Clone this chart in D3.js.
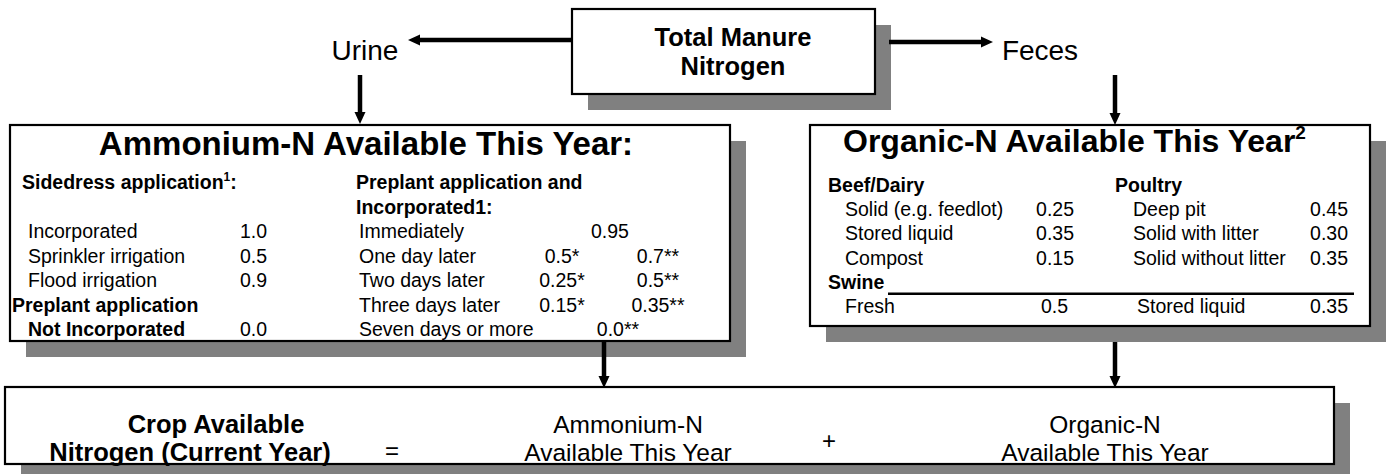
<!DOCTYPE html>
<html>
<head>
<meta charset="UTF-8">
<script src="https://cdnjs.cloudflare.com/ajax/libs/d3/7.8.5/d3.min.js"></script>
<style>
  body { margin: 0; background: #fff; }
  text { font-family: "Liberation Sans", Arial, sans-serif; fill: #000; }
</style>
</head>
<body>
<svg id="svg" width="1386" height="474"></svg>
<script>
// ---- data ----
const topLabel = ["Total Manure", "Nitrogen"]
const branchLabels = ["Urine", "Feces"]

const ammoniumTitle = "Ammonium-N Available This Year:"
const sidedressItems = ["Incorporated", "Sprinkler irrigation", "Flood irrigation"]
const sidedressValues = ["1.0", "0.5", "0.9"]
const notIncLabels = ["Preplant application", "Not Incorporated"]
const notIncValue = "0.0"
const incHead = ["Preplant application and", "Incorporated1:"]
const incItems = ["Immediately", "One day later", "Two days later", "Three days later", "Seven days or more"]
const incValuesA = ["", "0.5*", "0.25*", "0.15*", ""]
const incValuesB = ["", "0.7**", "0.5**", "0.35**", ""]
const incValuesMid = ["0.95", "", "", "", "0.0**"]

const organicTitle = "Organic-N Available This Year"
const beefItems = ["Solid (e.g. feedlot)", "Stored liquid", "Compost"]
const beefValues = ["0.25", "0.35", "0.15"]
const poultryItems = ["Deep pit", "Solid with litter", "Solid without litter"]
const poultryValues = ["0.45", "0.30", "0.35"]
const swineItems = ["Fresh", "Stored liquid"]
const swineValues = ["0.5", "0.35"]

const resultLabel = ["Crop Available", "Nitrogen (Current Year)"]
const sumTerms = [["Ammonium-N", "Available This Year"], ["Organic-N", "Available This Year"]]

// ---- layout ----
const svg = d3.select("#svg")
const SH = 16 // shadow offset
const boxes = [
  { x: 572, y: 9, w: 303, h: 85 },
  { x: 10, y: 125, w: 720, h: 216 },
  { x: 810, y: 125, w: 560, h: 201 },
  { x: 5, y: 387, w: 1329, h: 77 }
]

svg.selectAll("rect.shadow").data(boxes).enter().append("rect")
  .attr("class", "shadow")
  .attr("x", d => d.x + SH).attr("y", d => d.y + SH)
  .attr("width", d => d.w).attr("height", d => d.h)
  .style("fill", "#808080")

svg.selectAll("rect.box").data(boxes).enter().append("rect")
  .attr("class", "box")
  .attr("x", d => d.x).attr("y", d => d.y)
  .attr("width", d => d.w).attr("height", d => d.h)
  .style("fill", "#fff").style("stroke", "#000").style("stroke-width", 2.2)

function arrow(x1, y1, x2, y2) {
  const a = Math.atan2(y2 - y1, x2 - x1), L = 12, W = 5.5
  const bx = x2 - L * Math.cos(a), by = y2 - L * Math.sin(a)
  svg.append("line").attr("x1", x1).attr("y1", y1).attr("x2", bx).attr("y2", by)
    .style("stroke", "#000").style("stroke-width", 4.5)
  svg.append("path")
    .attr("d", `M${x2},${y2}L${bx - W * Math.sin(a)},${by + W * Math.cos(a)}L${bx + W * Math.sin(a)},${by - W * Math.cos(a)}Z`)
    .style("fill", "#000")
}

function txt(x, y, s, size, opt = {}) {
  return svg.append("text").attr("x", x).attr("y", y)
    .attr("text-anchor", opt.anchor || "start")
    .style("font-size", size + "px")
    .style("font-weight", opt.bold ? "bold" : "normal")
    .text(s)
}

// top node + branches
topLabel.forEach((s, i) => txt(733, 46 + i * 29, s, 25.5, { anchor: "middle", bold: true }))
txt(365, 60, branchLabels[0], 28, { anchor: "middle" })
txt(1040, 60, branchLabels[1], 28, { anchor: "middle" })
arrow(572, 40, 408, 40)
arrow(889, 42, 993, 42)
arrow(360, 75, 360, 124)
arrow(1115, 75, 1115, 125)
arrow(604, 341, 604, 388)
arrow(1115, 342, 1115, 388)

// ---- ammonium box ----
txt(366, 155, ammoniumTitle, 33, { anchor: "middle", bold: true })
const rowL = d3.scaleLinear().domain([0, 6]).range([189, 336])
const BS = 19.5

const sd = txt(22, rowL(0), "Sidedress application", BS, { bold: true })
sd.append("tspan").attr("dy", -8).style("font-size", "12px").text("1")
sd.append("tspan").attr("dy", 8).text(":")
sidedressItems.forEach((s, i) => {
  txt(28, rowL(i + 2), s, BS)
  txt(240, rowL(i + 2), sidedressValues[i], BS)
})
txt(12, rowL(5), notIncLabels[0], BS, { bold: true })
txt(28, rowL(6), notIncLabels[1], BS, { bold: true })
txt(240, rowL(6), notIncValue, BS)

const colV = d3.scalePoint().domain(["a", "mid", "b"]).range([562, 658])
incHead.forEach((s, i) => txt(356, rowL(i), s, BS, { bold: true }))
incItems.forEach((s, i) => {
  const y = rowL(i + 2)
  txt(359, y, s, BS)
  if (incValuesA[i]) txt(colV("a"), y, incValuesA[i], BS, { anchor: "middle" })
  if (incValuesB[i]) txt(colV("b"), y, incValuesB[i], BS, { anchor: "middle" })
  // the last mid value sits a little right of the 0.95 column
  if (incValuesMid[i]) txt(colV("mid") + (i === 4 ? 8 : 0), y, incValuesMid[i], BS, { anchor: "middle" })
})

// ---- organic box ----
const ot = txt(843, 152, organicTitle, 32, { bold: true })
ot.append("tspan").attr("dy", -13).style("font-size", "19px").text("2")

const rowR = d3.scaleLinear().domain([0, 5]).range([192, 313])
txt(828, rowR(0), "Beef/Dairy", BS, { bold: true })
txt(1115, rowR(0), "Poultry", BS, { bold: true })
beefItems.forEach((s, i) => {
  txt(845, rowR(i + 1), s, BS)
  txt(1074, rowR(i + 1), beefValues[i], BS, { anchor: "end" })
})
poultryItems.forEach((s, i) => {
  txt(1133, rowR(i + 1), s, BS)
  txt(1348, rowR(i + 1), poultryValues[i], BS, { anchor: "end" })
})
txt(828, rowR(4), "Swine", BS, { bold: true })
svg.append("line").attr("x1", 888).attr("x2", 1354).attr("y1", rowR(4) + 5).attr("y2", rowR(4) + 5)
  .style("stroke", "#000").style("stroke-width", 2.5)
txt(845, rowR(5), swineItems[0], BS)
txt(1068, rowR(5), swineValues[0], BS, { anchor: "end" })
txt(1137, rowR(5), swineItems[1], BS)
txt(1348, rowR(5), swineValues[1], BS, { anchor: "end" })

// ---- result box ----
txt(216, 433, resultLabel[0], 25.5, { anchor: "middle", bold: true })
txt(190, 461, resultLabel[1], 25.5, { anchor: "middle", bold: true })
txt(392, 459, "=", 24, { anchor: "middle" })
txt(829, 449, "+", 24, { anchor: "middle" })
const termX = d3.scalePoint().domain([0, 1]).range([628, 1105])
sumTerms.forEach((t, i) => {
  txt(termX(i), 433, t[0], 24.5, { anchor: "middle" })
  txt(termX(i), 461, t[1], 24.5, { anchor: "middle" })
})
</script>
</body>
</html>
